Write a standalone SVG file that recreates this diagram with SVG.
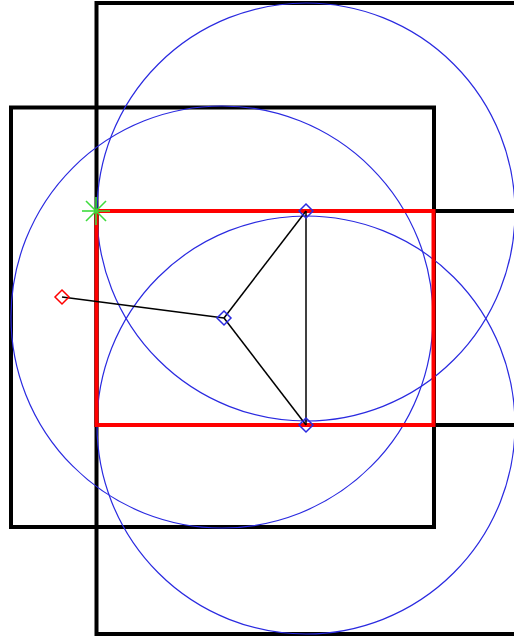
<svg xmlns="http://www.w3.org/2000/svg" width="514" height="640" viewBox="0 0 514 640">
<style>
.box{fill:none;stroke:#000;stroke-width:4}
.circ{fill:none;stroke:#2a2ae0;stroke-width:1.2}
.red{fill:none;stroke:#f00;stroke-width:4}
.edge{fill:none;stroke:#000;stroke-width:1.5}
.dia{fill:none;stroke-width:1.5}
.star{stroke:#3ddc3d;stroke-width:1.6}
</style>
<rect width="514" height="640" fill="#fff"/>
<g id="boxes">
<rect id="box-outer" class="box" x="96.5" y="3" width="424" height="631"/>
<rect id="box-left" class="box" x="11" y="107.5" width="423" height="419.5"/>
<rect id="box-mid" class="box" x="96.5" y="211" width="424" height="214"/>
</g>
<g id="circles">
<circle id="circle-top" class="circ" cx="306" cy="212" r="209"/>
<circle id="circle-bottom" class="circ" cx="306" cy="425" r="209"/>
<circle id="circle-left" class="circ" cx="222" cy="317" r="211"/>
</g>
<g id="intersection">
<rect class="red" x="96.5" y="211" width="337" height="214"/>
</g>
<g id="connectors">
<line class="edge" x1="62" y1="297" x2="224" y2="318"/>
<line class="edge" x1="224" y1="318" x2="306" y2="211"/>
<line class="edge" x1="224" y1="318" x2="306" y2="425"/>
<line class="edge" x1="306" y1="211" x2="306" y2="425"/>
</g>
<g id="node-red">
<path class="dia" stroke="#f00" d="M62 290 L69 297 L62 304 L55 297 Z"/>
</g>
<g id="node-center">
<path class="dia" stroke="#2a2ae0" d="M224 311 L231 318 L224 325 L217 318 Z"/>
</g>
<g id="node-top">
<path class="dia" stroke="#2a2ae0" d="M306 204 L313 211 L306 218 L299 211 Z"/>
</g>
<g id="node-bottom">
<path class="dia" stroke="#2a2ae0" d="M306 418 L313 425 L306 432 L299 425 Z"/>
</g>
<g id="node-star" class="star">
<line x1="82" y1="211" x2="110" y2="211"/>
<line x1="96" y1="197" x2="96" y2="225"/>
<line x1="86" y1="201" x2="106" y2="221"/>
<line x1="86" y1="221" x2="106" y2="201"/>
</g>
</svg>
